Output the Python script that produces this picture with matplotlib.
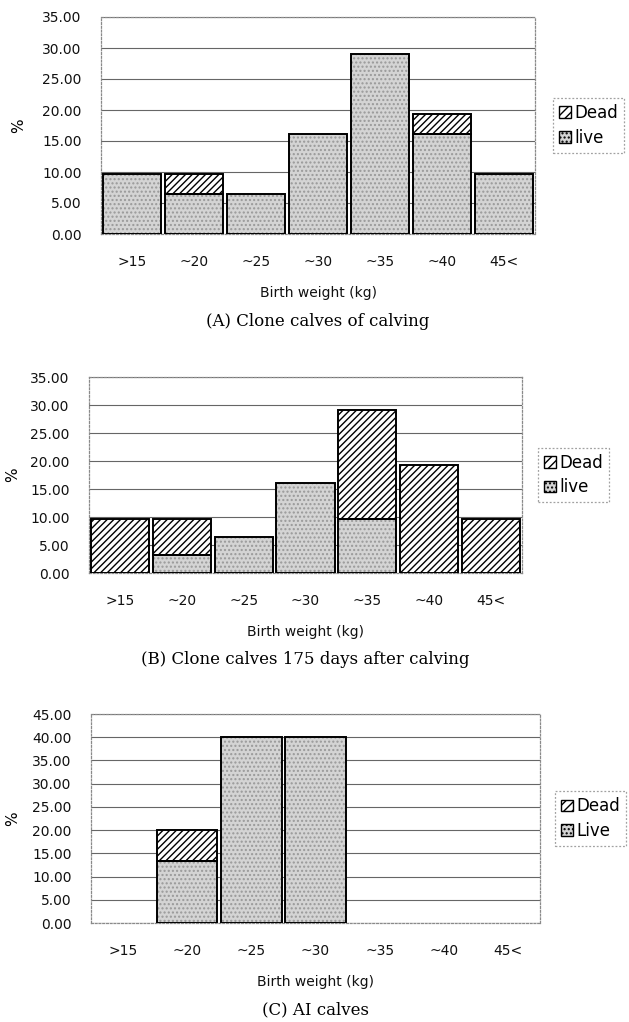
import matplotlib
matplotlib.use('Agg')
import matplotlib.pyplot as plt
from matplotlib.patches import Patch
import numpy as np

categories = ['>15', '~20', '~25', '~30', '~35', '~40', '45<']

# (A) clone calves at calving
a_live = [9.68, 6.45, 6.45, 16.13, 29.03, 16.13, 9.68]
a_dead = [0, 3.23, 0, 0, 0, 3.23, 0]

# (B) clone calves 175 days after calving
b_live = [0, 3.23, 6.45, 16.13, 9.68, 0, 0]
b_dead = [9.68, 6.45, 0, 0, 19.35, 19.35, 9.68]

# (C) AI calves
c_live = [0, 13.33, 40.00, 40.00, 0, 0, 0]
c_dead = [0, 6.67, 0, 0, 0, 0, 0]

W, H = 629, 1022
plt.rcParams['font.family'] = ['DejaVu Sans']
plt.rcParams['hatch.linewidth'] = 1.0

LIVE_FACE = '#d4d4d4'
LIVE_HATCH = '#999999'


def stacked(ax, x, heights, bottoms, kind):
    heights = np.array(heights, dtype=float)
    bottoms = np.array(bottoms, dtype=float)
    m = heights > 0
    if kind == 'live':
        ax.bar(x[m], heights[m], 0.94, bottom=bottoms[m], color=LIVE_FACE,
               edgecolor=LIVE_HATCH, hatch='....', linewidth=0, zorder=2)
    else:
        ax.bar(x[m], heights[m], 0.94, bottom=bottoms[m], color='white',
               edgecolor='black', hatch='/////', linewidth=0, zorder=2)
    ax.bar(x[m], heights[m], 0.94, bottom=bottoms[m], color='none',
           edgecolor='black', linewidth=1.4, zorder=3)


def panel(fig, px, live, dead, ymax, live_name, caption, leg_gap, ylab_x):
    left, top, right, bottom = px
    ax = fig.add_axes([left / W, 1 - bottom / H, (right - left) / W, (bottom - top) / H])
    x = np.arange(len(categories))
    stacked(ax, x, live, np.zeros(len(x)), 'live')
    stacked(ax, x, dead, live, 'dead')

    ax.set_xlim(-0.5, len(categories) - 0.5)
    ax.set_ylim(0, ymax)
    ax.set_yticks(np.arange(0, ymax + 1, 5))
    ax.set_yticklabels(['%.2f' % v for v in np.arange(0, ymax + 1, 5)])
    ax.set_xticks(x)
    ax.set_xticklabels(categories)
    ax.tick_params(axis='both', length=0, labelsize=10, colors='#111111')
    ax.tick_params(axis='x', pad=15)
    ax.tick_params(axis='y', pad=14)
    ax.yaxis.grid(True, color='#666666', linewidth=0.8, zorder=0)
    ax.set_axisbelow(True)
    for s in ax.spines.values():
        s.set_color('#8a8a8a')
        s.set_linestyle((0, (1.5, 1.5)))
        s.set_linewidth(0.9)

    ax.set_ylabel('%', fontsize=11)
    ax.yaxis.set_label_coords((ylab_x + 8 - left) / (right - left), 0.5)

    cx = (left + right) / 2 / W
    fig.text(cx, 1 - (bottom + 59) / H, 'Birth weight (kg)', ha='center', va='center',
             fontsize=10, color='#111111')
    fig.text(cx, 1 - (bottom + 87) / H, caption, ha='center', va='center',
             fontsize=12, family='DejaVu Serif')

    handles = [Patch(facecolor='white', edgecolor='black', hatch='////', linewidth=1.0),
               Patch(facecolor=LIVE_FACE, edgecolor='black', hatch='....', linewidth=1.0)]
    leg = ax.legend(handles, ['Dead', live_name], loc='center left',
                    bbox_to_anchor=(1 + leg_gap / (right - left), 0.5),
                    fontsize=12, handlelength=0.7, handleheight=0.7,
                    handletextpad=0.25, borderpad=0.35, labelspacing=0.4,
                    borderaxespad=0, fancybox=False)
    fr = leg.get_frame()
    fr.set_edgecolor('#8a8a8a')
    fr.set_linestyle((0, (1.5, 1.5)))
    fr.set_linewidth(0.9)
    return ax


fig = plt.figure(figsize=(W / 100, H / 100), dpi=100)
panel(fig, (101, 17, 535, 234), a_live, a_dead, 35, 'live',
      '(A) Clone calves of calving', 18, 18)
panel(fig, (89, 377, 522, 573), b_live, b_dead, 35, 'live',
      '(B) Clone calves 175 days after calving', 16, 12)
panel(fig, (91, 714, 540, 923), c_live, c_dead, 45, 'Live',
      '(C) AI calves', 15, 12)

fig.savefig('out.png', dpi=100)
